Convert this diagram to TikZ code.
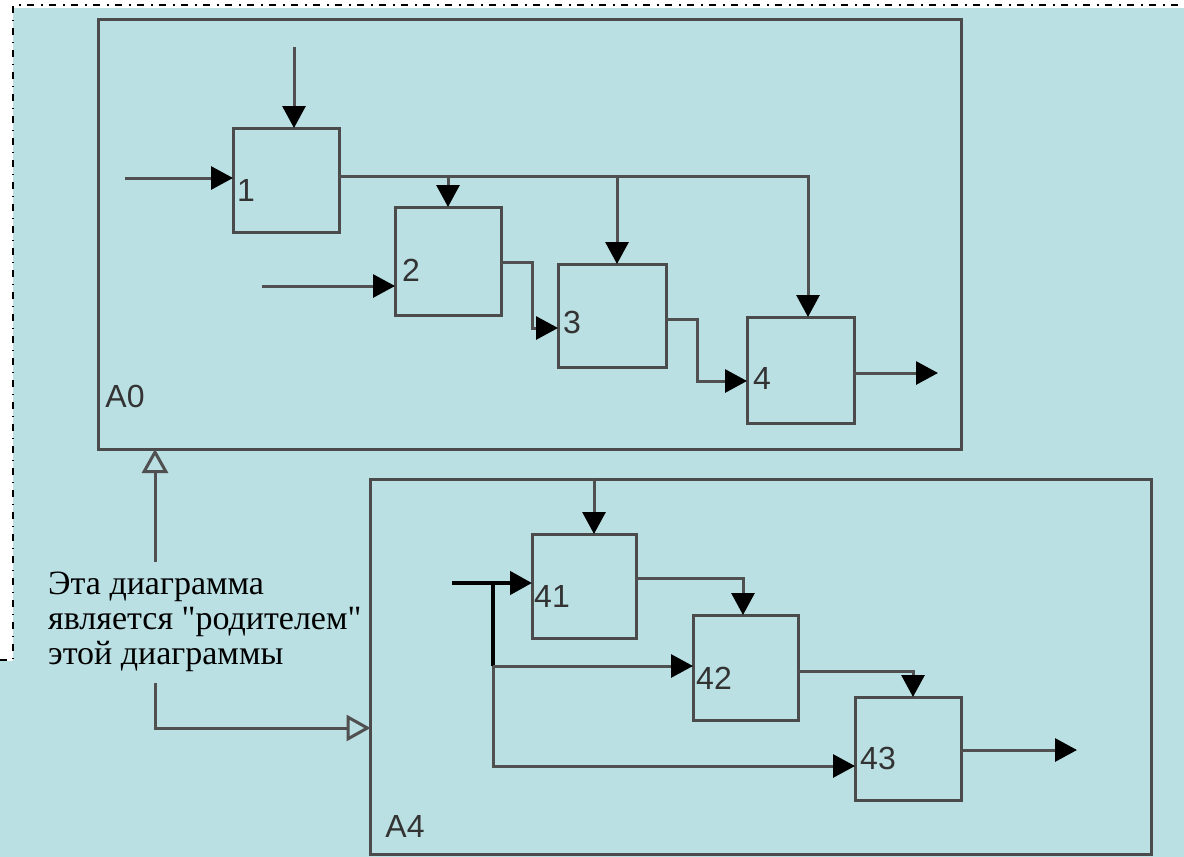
\documentclass[tikz,border=0pt]{standalone}
\usepackage{fontspec}
\setmainfont{Liberation Serif}
\newfontfamily\numfont{Liberation Sans}
\usetikzlibrary{arrows.meta}
\definecolor{bgblue}{RGB}{186,224,227}
\definecolor{edge}{RGB}{75,75,75}
\definecolor{wire}{RGB}{80,80,80}
\tikzset{
  frame/.style={draw=edge, line width=3pt, inner sep=0pt, outer sep=0pt},
  actbox/.style={draw=edge, line width=3pt, inner sep=0pt, outer sep=0pt},
  flow/.style={draw=wire, line width=3pt, -{Triangle[length=22pt,width=23pt,color=black]}},
  plainwire/.style={draw=wire, line width=3pt},
  heavywire/.style={draw=black, line width=4.5pt},
  parentarrow/.style={draw=wire, line width=3pt, -{Triangle[open,length=24pt,width=26pt,fill=bgblue]}},
  num/.style={font=\numfont\fontsize{32}{32}\selectfont, inner sep=0pt, text=black!80},
  border/.style={line width=2.5pt, dash pattern=on 7pt off 7pt on 1.5pt off 6.5pt}
}
\begin{document}
\begin{tikzpicture}[x=1pt,y=-1pt]
\useasboundingbox (0,0) rectangle (1184,857);
\fill[white] (0,0) rectangle (1184,857);
\fill[bgblue] (13,8) rectangle (1184,857);
\fill[bgblue] (0,661) rectangle (13,857);
\draw[border] (0,660) -- (13,660) -- (13,5) -- (1184,5);

% context frames
\node[frame, minimum width=863pt, minimum height=430pt] (A0) at (529.5,234) {};
\node[frame, minimum width=781pt, minimum height=375pt] (A4) at (761,666.5) {};

% activity boxes
\node[actbox, minimum width=106pt, minimum height=104pt] (b1) at (286,180) {};
\node[actbox, minimum width=106pt, minimum height=108pt] (b2) at (448,261) {};
\node[actbox, minimum width=108pt, minimum height=103pt] (b3) at (612,315.5) {};
\node[actbox, minimum width=107pt, minimum height=106pt] (b4) at (800.5,370) {};
\node[actbox, minimum width=104pt, minimum height=104pt] (b41) at (584,586) {};
\node[actbox, minimum width=105pt, minimum height=105pt] (b42) at (745.5,667.5) {};
\node[actbox, minimum width=106pt, minimum height=103pt] (b43) at (908,748.5) {};

% labels
\node[num] (l1) at (246,190) {1};
\node[num] (l2) at (411,270) {2};
\node[num] (l3) at (572,322) {3};
\node[num] (l4) at (762,378) {4};
\node[num] (l41) at (552,596) {41};
\node[num] (l42) at (714,678) {42};
\node[num] (l43) at (878,758) {43};
\node[num] (lA0) at (125,396) {A0};
\node[num] (lA4) at (405,826) {A4};

% A0 connectors
\coordinate (c1) at (294,47);
\draw[flow] (c1) -- (c1 |- b1.north);
\coordinate (i1) at (125,178);
\draw[flow] (i1) -- (i1 -| b1.west);
\coordinate (j1) at (808,176);
\coordinate (j2) at (448,176);
\coordinate (j3) at (617,176);
\draw[flow] (j1 -| b1.east) -- (j1) -- (j1 |- b4.north);
\draw[flow] (j2) -- (j2 |- b2.north);
\draw[flow] (j3) -- (j3 |- b3.north);
\coordinate (i2) at (262,286);
\draw[flow] (i2) -- (i2 -| b2.west);
\coordinate (k1) at (532,262);
\coordinate (k2) at (532,328);
\draw[flow] (k1 -| b2.east) -- (k1) -- (k2) -- (k2 -| b3.west);
\coordinate (m1) at (697,319);
\coordinate (m2) at (697,381);
\draw[flow] (m1 -| b3.east) -- (m1) -- (m2) -- (m2 -| b4.west);
\coordinate (o4) at (938,373);
\draw[flow] (o4 -| b4.east) -- (o4);

% A4 connectors
\coordinate (c41) at (594,479);
\draw[flow] (c41) -- (c41 |- b41.north);
\coordinate (i41) at (452,583);
\coordinate (s1) at (493,583);
\coordinate (s2) at (493,666);
\coordinate (s3) at (493,766);
\draw[flow, draw=black, line width=4.5pt] (i41) -- (i41 -| b41.west);
\draw[heavywire] (s1) -- (s2);
\draw[flow] (s2) -- (s2 -| b42.west);
\draw[flow] (s2) -- (s3) -- (s3 -| b43.west);
\coordinate (p1) at (743,578);
\draw[flow] (p1 -| b41.east) -- (p1) -- (p1 |- b42.north);
\coordinate (q1) at (913,671);
\draw[flow] (q1 -| b42.east) -- (q1) -- (q1 |- b43.north);
\coordinate (o43) at (1077,750);
\draw[flow] (o43 -| b43.east) -- (o43);

% parent relation
\coordinate (t1) at (155,562);
\draw[parentarrow] (t1) -- (t1 |- A0.south);
\node[anchor=north west, align=left, inner sep=0pt,
      font=\fontsize{34}{35}\selectfont] (note) at (48,572)
  {Эта диаграмма\\является \textquotedbl родителем\textquotedbl\\этой диаграммы};
\coordinate (t2) at (155,683);
\coordinate (t3) at (155,728);
\draw[parentarrow] (t2) -- (t3) -- (t3 -| A4.west);
\end{tikzpicture}
\end{document}
